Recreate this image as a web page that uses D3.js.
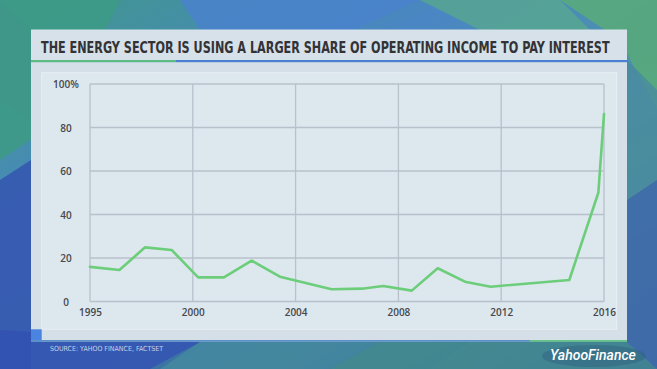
<!DOCTYPE html>
<html>
<head>
<meta charset="utf-8">
<script src="https://cdn.jsdelivr.net/npm/d3@7"></script>
<style>
  html, body { margin: 0; padding: 0; background: #3f7fa8; }
  svg { display: block; }
</style>
</head>
<body>
<svg id="chart" width="657" height="369"></svg>
<script>
// ---- data ----
const titleText = "THE ENERGY SECTOR IS USING A LARGER SHARE OF OPERATING INCOME TO PAY INTEREST";
const sourceText = "SOURCE: YAHOO FINANCE, FACTSET";
const brandText = "YahooFinance";
const xTickYears = [1995, 2000, 2004, 2008, 2012, 2016];
const yTickValues = [0, 20, 40, 60, 80, 100];
const pointYears = [1995, 1996.43, 1997.68, 1998.97, 2000.21, 2001.21, 2002.29, 2003.39,
                    2005.40, 2006.57, 2007.41, 2008.52, 2009.53, 2010.59, 2011.59,
                    2014.65, 2015.78, 2016];
const pointValues = [15.9, 14.5, 24.9, 23.7, 11.1, 11.1, 18.8, 11.4,
                     5.6, 5.9, 7.1, 5.0, 15.3, 9.1, 6.8,
                     9.9, 50.0, 86.2];

const svg = d3.select("#chart");
const W = 657, H = 369;

// ---- background ----
const defs = svg.append("defs");
const bg = defs.append("linearGradient").attr("id", "bg")
  .attr("x1", "0").attr("y1", "0").attr("x2", "1").attr("y2", "1");
bg.append("stop").attr("offset", "0%").attr("stop-color", "#3f9888");
bg.append("stop").attr("offset", "35%").attr("stop-color", "#4a86c4");
bg.append("stop").attr("offset", "70%").attr("stop-color", "#4e9a98");
bg.append("stop").attr("offset", "100%").attr("stop-color", "#3f6aa8");
svg.append("rect").attr("width", W).attr("height", H).attr("fill", "url(#bg)");

const facets = [
  {pts: [[0,0],[120,0],[60,120],[0,160]], c: "#3d9a86", o: 0.9},
  {pts: [[180,0],[420,0],[330,40],[200,30]], c: "#4a82cc", o: 0.85},
  {pts: [[420,0],[560,0],[600,40],[480,30]], c: "#58a890", o: 0.8},
  {pts: [[560,0],[657,0],[657,110],[620,40]], c: "#58aa7c", o: 0.9},
  {pts: [[627,60],[657,90],[657,260],[627,280]], c: "#4a8aa0", o: 0.8},
  {pts: [[627,200],[657,180],[657,369],[627,369]], c: "#3f6aa8", o: 0.9},
  {pts: [[0,180],[31,160],[31,369],[0,369]], c: "#3558b0", o: 0.9},
  {pts: [[0,330],[200,342],[160,369],[0,369]], c: "#3352b2", o: 0.9},
  {pts: [[200,342],[470,342],[430,369],[150,369]], c: "#3f7fa0", o: 0.7},
  {pts: [[380,342],[627,342],[657,369],[330,369]], c: "#428a8c", o: 0.75},
  {pts: [[0,0],[31,30],[31,120],[0,100]], c: "#3e9688", o: 0.8}
];
svg.append("g").selectAll("polygon").data(facets).join("polygon")
  .attr("points", d => d.pts.map(p => p.join(",")).join(" "))
  .attr("fill", d => d.c).attr("opacity", d => d.o);

// ---- title banner ----
svg.append("rect").attr("x", 31).attr("y", 29.5).attr("width", 596).attr("height", 31)
  .attr("fill", "#d6e1e9");
svg.append("rect").attr("x", 31).attr("y", 60).attr("width", 145).attr("height", 2.2)
  .attr("fill", "#5cbc84");
svg.append("rect").attr("x", 176).attr("y", 60).attr("width", 451).attr("height", 2.2)
  .attr("fill", "#4a80d4");
const titleG = svg.append("g");
const title = titleG.append("text").attr("x", 0).attr("y", 0)
  .attr("font-family", "'Liberation Sans Narrow', 'DejaVu Sans Condensed', 'Roboto', sans-serif")
  .attr("font-weight", "bold").attr("font-size", 16.5)
  .attr("fill", "#333336")
  .text(titleText);
// condense the title horizontally to the banner width (as in the reference's narrow face)
(function fitTitle() {
  const target = 569;
  const w = title.node().getComputedTextLength();
  const sx = Math.min(1, target / w);
  titleG.attr("transform", `translate(41,52.8) scale(${sx.toFixed(4)},1)`);
})();

// ---- chart panel ----
svg.append("rect").attr("x", 31).attr("y", 62.2).attr("width", 596).attr("height", 279.5)
  .attr("fill", "#d4dfe7");
svg.append("rect").attr("x", 41.7).attr("y", 72.7).attr("width", 575).attr("height", 256.6)
  .attr("fill", "#dde7ee").attr("stroke", "#e8eff4").attr("stroke-width", 1);
svg.append("rect").attr("x", 31).attr("y", 329.3).attr("width", 10.7).attr("height", 12.4)
  .attr("fill", "#4a84e0");
svg.append("rect").attr("x", 31).attr("y", 340).attr("width", 596).attr("height", 1.8)
  .attr("fill", "#5d8fc8");
svg.append("rect").attr("x", 530).attr("y", 340).attr("width", 97).attr("height", 1.8)
  .attr("fill", "#66c486");

// ---- scales ----
const x0 = 90, x1 = 604;
const step = (x1 - x0) / (xTickYears.length - 1);
const x = d3.scaleLinear()
  .domain(xTickYears)
  .range(xTickYears.map((d, i) => x0 + i * step));
const y = d3.scaleLinear().domain([0, 100]).range([301.5, 84]);

// ---- grid ----
const grid = svg.append("g");
grid.selectAll("line.h").data(yTickValues).join("line").attr("class", "h")
  .attr("x1", x0).attr("x2", x1)
  .attr("y1", d => y(d)).attr("y2", d => y(d))
  .attr("stroke", "#b8c0ca").attr("stroke-width", 1.3);
grid.selectAll("line.v").data(xTickYears).join("line").attr("class", "v")
  .attr("x1", d => x(d)).attr("x2", d => x(d))
  .attr("y1", y(0)).attr("y2", y(100))
  .attr("stroke", "#b8c0ca").attr("stroke-width", 1.3);

// ---- axes labels ----
const yAxis = d3.axisLeft(y).tickValues(yTickValues)
  .tickFormat(d => d === 100 ? "100%" : d).tickSize(0).tickPadding(0);
const gy = svg.append("g").attr("transform", "translate(66,0)").call(yAxis);
gy.select(".domain").remove();
gy.selectAll("text")
  .attr("text-anchor", "middle").attr("dy", "0.36em")
  .attr("font-family", "'Open Sans', sans-serif").attr("font-weight", 600)
  .attr("font-size", 10).attr("fill", "#46484c");

const xAxis = d3.axisBottom(x).tickValues(xTickYears).tickFormat(d3.format("d"))
  .tickSize(0).tickPadding(0);
const gx = svg.append("g").attr("transform", "translate(0,309)").call(xAxis);
gx.select(".domain").remove();
gx.selectAll("text")
  .attr("dy", "0.71em")
  .attr("font-family", "'Open Sans', sans-serif").attr("font-weight", 600)
  .attr("font-size", 10).attr("fill", "#46484c");

// ---- line ----
const pts = pointYears.map((yr, i) => ({yr, v: pointValues[i]}));
const line = d3.line().x(d => x(d.yr)).y(d => y(d.v));
svg.append("path").datum(pts)
  .attr("d", line)
  .attr("fill", "none").attr("stroke", "#6ccd7a").attr("stroke-width", 2.6)
  .attr("stroke-linejoin", "round").attr("stroke-linecap", "round");

// ---- footer ----
svg.append("text").attr("x", 50).attr("y", 350.5)
  .attr("font-family", "'Liberation Sans Narrow', 'DejaVu Sans Condensed', sans-serif")
  .attr("font-size", 7).attr("fill", "#c6d2e6")
  .text(sourceText);

svg.append("ellipse").attr("cx", 594).attr("cy", 356).attr("rx", 52).attr("ry", 11)
  .attr("fill", "#2f5f80").attr("opacity", 0.45);
svg.append("text").attr("x", 550).attr("y", 360)
  .attr("font-family", "'Roboto', 'Liberation Sans', sans-serif")
  .attr("font-style", "italic").attr("font-weight", 500)
  .attr("font-size", 14).attr("fill", "#ffffff")
  .text(brandText);
</script>
</body>
</html>
